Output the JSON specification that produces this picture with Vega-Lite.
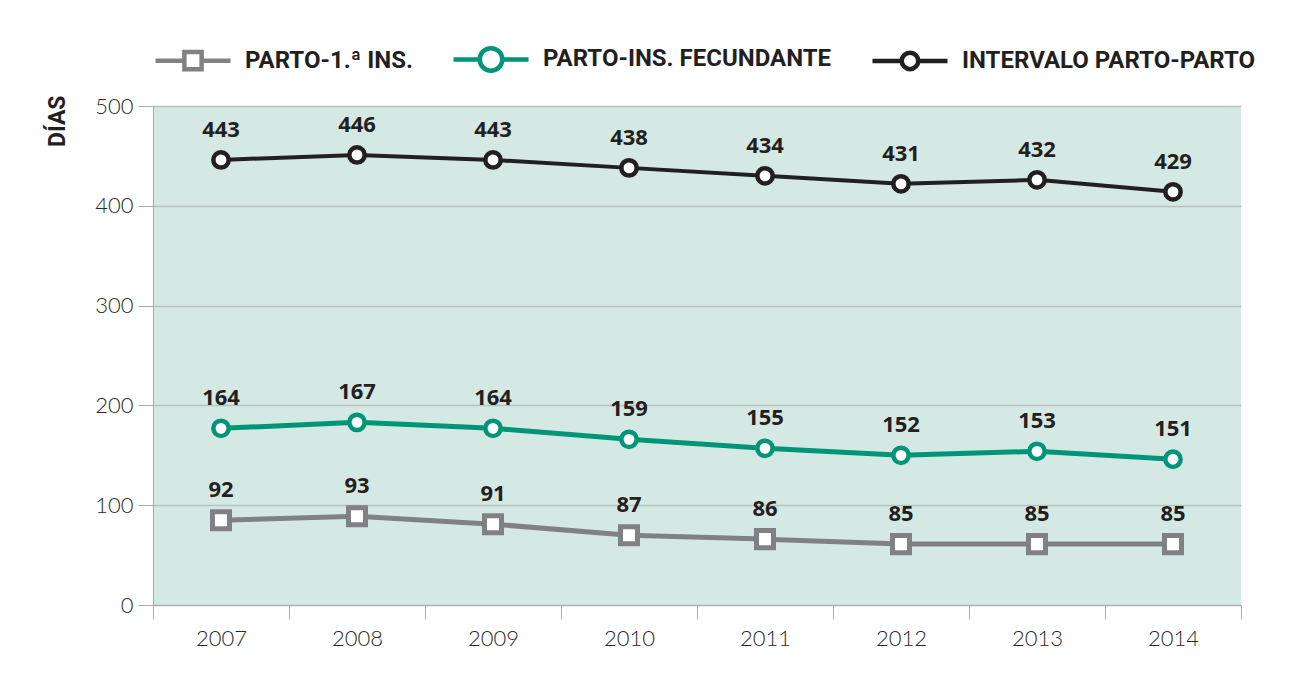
{
  "$schema": "https://vega.github.io/schema/vega-lite/v6.json",
  "width": 1088,
  "height": 499,
  "autosize": {"type": "none"},
  "padding": {"left": 153, "top": 106, "right": 75, "bottom": 76},
  "background": "white",
  "config": {
    "view": {"fill": "#d4e8e4", "stroke": null},
    "font": "Lato"
  },
  "data": {
    "values": [
      {"year": "2007", "series": "PARTO-1.ª INS.", "value": 85, "label": 92},
      {"year": "2008", "series": "PARTO-1.ª INS.", "value": 89, "label": 93},
      {"year": "2009", "series": "PARTO-1.ª INS.", "value": 81, "label": 91},
      {"year": "2010", "series": "PARTO-1.ª INS.", "value": 70, "label": 87},
      {"year": "2011", "series": "PARTO-1.ª INS.", "value": 66, "label": 86},
      {"year": "2012", "series": "PARTO-1.ª INS.", "value": 61, "label": 85},
      {"year": "2013", "series": "PARTO-1.ª INS.", "value": 61, "label": 85},
      {"year": "2014", "series": "PARTO-1.ª INS.", "value": 61, "label": 85},
      {"year": "2007", "series": "PARTO-INS. FECUNDANTE", "value": 177, "label": 164},
      {"year": "2008", "series": "PARTO-INS. FECUNDANTE", "value": 183, "label": 167},
      {"year": "2009", "series": "PARTO-INS. FECUNDANTE", "value": 177, "label": 164},
      {"year": "2010", "series": "PARTO-INS. FECUNDANTE", "value": 166, "label": 159},
      {"year": "2011", "series": "PARTO-INS. FECUNDANTE", "value": 157, "label": 155},
      {"year": "2012", "series": "PARTO-INS. FECUNDANTE", "value": 150, "label": 152},
      {"year": "2013", "series": "PARTO-INS. FECUNDANTE", "value": 154, "label": 153},
      {"year": "2014", "series": "PARTO-INS. FECUNDANTE", "value": 146, "label": 151},
      {"year": "2007", "series": "INTERVALO PARTO-PARTO", "value": 446, "label": 443},
      {"year": "2008", "series": "INTERVALO PARTO-PARTO", "value": 451, "label": 446},
      {"year": "2009", "series": "INTERVALO PARTO-PARTO", "value": 446, "label": 443},
      {"year": "2010", "series": "INTERVALO PARTO-PARTO", "value": 438, "label": 438},
      {"year": "2011", "series": "INTERVALO PARTO-PARTO", "value": 430, "label": 434},
      {"year": "2012", "series": "INTERVALO PARTO-PARTO", "value": 422, "label": 431},
      {"year": "2013", "series": "INTERVALO PARTO-PARTO", "value": 426, "label": 432},
      {"year": "2014", "series": "INTERVALO PARTO-PARTO", "value": 414, "label": 429}
    ]
  },
  "encoding": {
    "x": {
      "field": "year",
      "type": "ordinal",
      "scale": {"paddingInner": 0, "paddingOuter": 0},
      "axis": {
        "title": null,
        "labelAngle": 0,
        "tickBand": "extent",
        "tickSize": 14,
        "tickColor": "#aaaaaa",
        "domainColor": "#aaaaaa",
        "labelFont": "Lato",
        "labelFontWeight": 300,
        "labelFontSize": 22,
        "labelColor": "#2a2a2a",
        "labelPadding": 9,
        "grid": false
      }
    },
    "y": {
      "field": "value",
      "type": "quantitative",
      "scale": {"domain": [0, 500], "nice": false},
      "axis": {
        "values": [0, 100, 200, 300, 400, 500],
        "title": "DÍAS",
        "titleFont": "Roboto",
        "titleFontSize": 23,
        "titleFontWeight": "bold",
        "titleColor": "#231f20",
        "titleAnchor": "end",
        "titleY": -11,
        "titlePadding": 25,
        "grid": true,
        "gridColor": "#b8c2c0",
        "gridWidth": 1.5,
        "tickSize": 15,
        "tickColor": "#aaaaaa",
        "domainColor": "#aaaaaa",
        "labelFont": "Lato",
        "labelFontWeight": 300,
        "labelFontSize": 22,
        "labelColor": "#2a2a2a",
        "labelPadding": 5
      }
    },
    "color": {
      "field": "series",
      "type": "nominal",
      "scale": {
        "domain": ["PARTO-1.ª INS.", "PARTO-INS. FECUNDANTE", "INTERVALO PARTO-PARTO"],
        "range": ["#818185", "#009479", "#231f20"]
      },
      "legend": {
        "orient": "top",
        "direction": "horizontal",
        "title": null,
        "symbolSize": 5625,
        "symbolStrokeWidth": 4.5,
        "labelFont": "Roboto",
        "labelFontSize": 24,
        "labelFontWeight": "bold",
        "labelColor": "#231f20",
        "labelLimit": 0,
        "labelOffset": 12,
        "columnPadding": 31,
        "offset": 26,
        "padding": 0,
        "encode": {
          "symbols": {
            "update": {
              "shape": {"signal": "datum.value === 'PARTO-1.ª INS.' ? 'M-1,0H-0.23M0.23,0H1M-0.23,-0.23H0.23V0.23H-0.23Z' : datum.value === 'PARTO-INS. FECUNDANTE' ? 'M-1,0H-0.3M0.3,0H1M-0.3,0A0.3,0.3,0,1,1,0.3,0A0.3,0.3,0,1,1,-0.3,0Z' : 'M-1,0H-0.22M0.22,0H1M-0.22,0A0.22,0.22,0,1,1,0.22,0A0.22,0.22,0,1,1,-0.22,0Z'"},
              "size": {"value": 5625},
              "fill": {"value": "white"},
              "opacity": {"value": 1},
              "strokeWidth": {"value": 4.5}
            }
          }
        }
      }
    }
  },
  "layer": [
    {
      "mark": {"type": "line"},
      "encoding": {
        "strokeWidth": {
          "condition": {"test": "datum.series === 'INTERVALO PARTO-PARTO'", "value": 4},
          "value": 5
        }
      }
    },
    {
      "transform": [{"filter": "datum.series === 'PARTO-1.ª INS.'"}],
      "mark": {"type": "point", "shape": "square", "filled": false, "fill": "white", "opacity": 1, "size": 290, "strokeWidth": 5}
    },
    {
      "transform": [{"filter": "datum.series !== 'PARTO-1.ª INS.'"}],
      "mark": {"type": "point", "shape": "circle", "filled": false, "fill": "white", "opacity": 1, "size": 235, "strokeWidth": 4.5}
    },
    {
      "mark": {"type": "text", "dy": -30, "fontSize": 22, "fontWeight": "bold", "font": "Open Sans", "color": "#231f20", "baseline": "middle"},
      "encoding": {
        "color": {"value": "#231f20"},
        "text": {"field": "label", "type": "quantitative"}
      }
    }
  ]
}
